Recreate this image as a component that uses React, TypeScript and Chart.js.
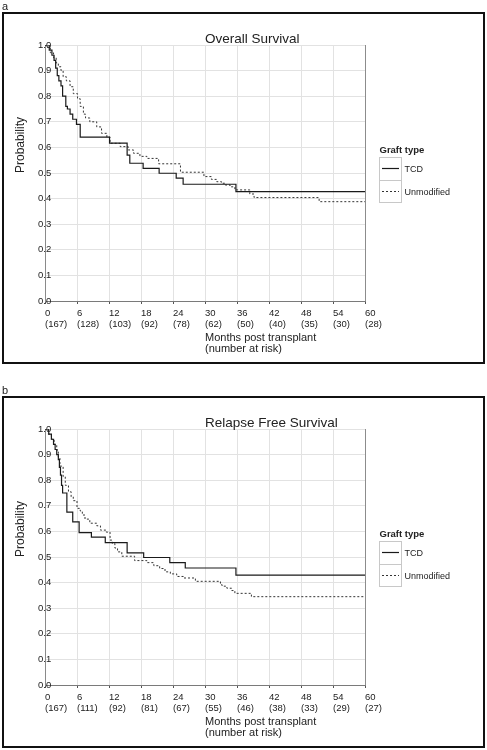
import React, { useEffect, useRef } from "react";
import { Chart, registerables } from "chart.js";

Chart.register(...registerables);

const FONT = '"Liberation Sans", Arial, Helvetica, sans-serif';

// x-axis ticks (months) and numbers at risk
const monthTicks = [0, 6, 12, 18, 24, 30, 36, 42, 48, 54, 60];
const osAtRisk = [167, 128, 103, 92, 78, 62, 50, 40, 35, 30, 28];
const rfsAtRisk = [167, 111, 92, 81, 67, 55, 46, 38, 33, 29, 27];
const seriesNames = ["TCD", "Unmodified"];

// Overall survival – TCD
const osTcdMonths = [0, 0.8, 1.3, 1.7, 2.0, 2.3, 2.6, 3.0, 3.3, 3.9, 4.2, 4.7, 5.2, 5.9, 6.6, 12.1, 15.4, 15.9, 18.4, 21.4, 24.6, 25.9, 35.8, 60];
const osTcdSurv = [1.0, 0.98, 0.96, 0.94, 0.91, 0.88, 0.86, 0.84, 0.8, 0.76, 0.75, 0.73, 0.71, 0.69, 0.64, 0.617, 0.57, 0.538, 0.518, 0.499, 0.48, 0.456, 0.427, 0.427];

// Overall survival – Unmodified
const osUnmMonths = [0, 0.5, 1.0, 1.6, 2.1, 2.5, 3.0, 3.4, 4.0, 4.7, 5.3, 6.1, 6.6, 7.2, 7.6, 8.4, 9.7, 10.6, 11.6, 12.2, 14.1, 15.6, 16.6, 17.8, 19.1, 21.3, 25.4, 29.8, 31.2, 32.2, 33.1, 33.8, 34.7, 35.6, 38.4, 39.2, 51.4, 60];
const osUnmSurv = [1.0, 0.99, 0.97, 0.95, 0.93, 0.915, 0.9, 0.876, 0.86, 0.837, 0.81, 0.79, 0.76, 0.73, 0.715, 0.7, 0.68, 0.655, 0.64, 0.616, 0.603, 0.59, 0.577, 0.565, 0.557, 0.536, 0.503, 0.486, 0.475, 0.466, 0.46, 0.453, 0.446, 0.434, 0.418, 0.404, 0.388, 0.388];

// Relapse free survival – TCD
const rfsTcdMonths = [0, 0.7, 1.2, 1.6, 1.9, 2.2, 2.5, 2.7, 2.9, 3.1, 3.3, 4.1, 5.2, 6.4, 8.7, 11.3, 15.4, 18.5, 23.4, 26.3, 35.8, 60];
const rfsTcdSurv = [1.0, 0.98, 0.96, 0.94, 0.92, 0.9, 0.88, 0.85, 0.82, 0.78, 0.75, 0.675, 0.637, 0.595, 0.578, 0.556, 0.516, 0.498, 0.478, 0.457, 0.429, 0.429];

// Relapse free survival – Unmodified
const rfsUnmMonths = [0, 0.6, 1.2, 1.7, 2.2, 2.5, 2.8, 3.4, 3.8, 4.4, 4.9, 5.3, 6.0, 6.6, 7.0, 7.5, 8.4, 9.7, 10.4, 11.5, 12.2, 12.6, 13.1, 13.6, 14.4, 16.8, 19.1, 20.4, 21.5, 22.5, 23.5, 24.7, 26.0, 28.2, 32.9, 33.2, 34.1, 35.0, 35.6, 38.7, 60];
const rfsUnmSurv = [1.0, 0.98, 0.96, 0.94, 0.918, 0.89, 0.855, 0.814, 0.78, 0.755, 0.735, 0.72, 0.69, 0.68, 0.664, 0.648, 0.632, 0.622, 0.605, 0.597, 0.566, 0.553, 0.535, 0.52, 0.503, 0.486, 0.478, 0.466, 0.455, 0.442, 0.434, 0.424, 0.418, 0.405, 0.392, 0.386, 0.378, 0.369, 0.358, 0.345, 0.345];

type PanelProps = {
  letter: string;
  title: string;
  atRisk: number[];
  tcdMonths: number[];
  tcdSurv: number[];
  unmMonths: number[];
  unmSurv: number[];
  top: number;
};

const W = 487;
const H = 366;

function toPoints(xs: number[], ys: number[]) {
  return xs.map((x, i) => ({ x, y: ys[i] }));
}

function Panel(props: PanelProps) {
  const ref = useRef<HTMLCanvasElement | null>(null);
  useEffect(() => {
    const canvas = ref.current;
    if (!canvas) return;
    const decor = {
      id: "decor",
      afterDraw(chart: any) {
        const ctx = chart.ctx as CanvasRenderingContext2D;
        const a = chart.chartArea;
        const mid = (a.left + a.right) / 2;
        ctx.save();
        // right frame of plot
        ctx.strokeStyle = "#8c8c8c";
        ctx.lineWidth = 1;
        ctx.beginPath();
        ctx.moveTo(Math.round(a.right) + 0.5, a.top);
        ctx.lineTo(Math.round(a.right) + 0.5, a.bottom);
        ctx.stroke();
        // panel border
        ctx.strokeStyle = "#111";
        ctx.lineWidth = 2;
        ctx.strokeRect(3, 13, 481, 350);
        ctx.fillStyle = "#222";
        // panel letter
        ctx.font = `11px ${FONT}`;
        ctx.textAlign = "left";
        ctx.textBaseline = "alphabetic";
        ctx.fillText(props.letter, 2, 10);
        // title
        ctx.font = `13.5px ${FONT}`;
        ctx.fillText(props.title, mid, 43);
        // x title
        ctx.font = `11px ${FONT}`;
        ctx.fillText("Months post transplant", mid, 341);
        ctx.fillText("(number at risk)", mid, 352);
        // y title
        ctx.save();
        ctx.translate(24, (a.top + a.bottom) / 2);
        ctx.rotate(-Math.PI / 2);
        ctx.font = `12px ${FONT}`;
        ctx.fillText("Probability", 0, 0);
        ctx.restore();
        // legend
        ctx.font = `bold 9.5px ${FONT}`;
        ctx.fillText("Graft type", 379.5, 153);
        ctx.strokeStyle = "#c8c8c8";
        ctx.lineWidth = 1;
        ctx.strokeRect(379.5, 157.5, 22, 45);
        ctx.beginPath();
        ctx.moveTo(379.5, 180.5);
        ctx.lineTo(401.5, 180.5);
        ctx.stroke();
        ctx.strokeStyle = "#1a1a1a";
        ctx.lineWidth = 1.2;
        ctx.beginPath();
        ctx.moveTo(382, 168.5);
        ctx.lineTo(399, 168.5);
        ctx.stroke();
        ctx.strokeStyle = "#333";
        ctx.lineWidth = 1;
        ctx.setLineDash([2, 2]);
        ctx.beginPath();
        ctx.moveTo(382, 191.5);
        ctx.lineTo(399, 191.5);
        ctx.stroke();
        ctx.setLineDash([]);
        ctx.font = `9px ${FONT}`;
        ctx.textBaseline = "middle";
        ctx.fillText(seriesNames[0], 404.5, 170);
        ctx.fillText(seriesNames[1], 404.5, 193);
        ctx.restore();
      },
    };
    const chart = new Chart(canvas, {
      type: "line",
      data: {
        datasets: [
          {
            label: seriesNames[0],
            data: toPoints(props.tcdMonths, props.tcdSurv),
            borderColor: "#1a1a1a",
            borderWidth: 1.2,
            pointRadius: 0,
            stepped: "before",
            fill: false,
          },
          {
            label: seriesNames[1],
            data: toPoints(props.unmMonths, props.unmSurv),
            borderColor: "#333",
            borderWidth: 1,
            borderDash: [2, 2],
            pointRadius: 0,
            stepped: "before",
            fill: false,
          },
        ],
      },
      options: {
        animation: false,
        responsive: false,
        maintainAspectRatio: false,
        events: [],
        layout: { padding: { left: 45, right: 122, top: 45, bottom: 35 } },
        plugins: { legend: { display: false }, title: { display: false }, tooltip: { enabled: false } },
        scales: {
          x: {
            type: "linear",
            min: 0,
            max: 60,
            afterFit: (s: any) => {
              s.height = 30;
            },
            grid: { color: "#e2e2e2", lineWidth: 1, drawTicks: true, tickLength: 3, tickColor: "#555" },
            border: { color: "#7a7a7a", width: 1 },
            afterBuildTicks: (s: any) => {
              s.ticks = monthTicks.map((v) => ({ value: v }));
            },
            ticks: {
              align: "start",
              maxRotation: 0,
              minRotation: 0,
              autoSkip: false,
              padding: 4,
              color: "#222",
              font: { family: FONT, size: 9.5, lineHeight: "11px" },
              callback: (value: any, index: number) => [String(monthTicks[index]), `(${props.atRisk[index]})`],
            },
          },
          y: {
            min: 0,
            max: 1,
            afterFit: (s: any) => {
              s.width = 0;
            },
            grid: { color: "#e2e2e2", lineWidth: 1, drawTicks: false },
            border: { color: "#8a8a8a", width: 1 },
            ticks: {
              stepSize: 0.1,
              mirror: true,
              padding: -7,
              color: "#222",
              font: { family: FONT, size: 9.5 },
              callback: (value: any) => Number(value).toFixed(1),
            },
          },
        },
      },
      plugins: [decor],
    } as any);
    return () => chart.destroy();
  }, []);
  return (
    <canvas
      ref={ref}
      width={W}
      height={H}
      style={{ position: "absolute", left: 0, top: props.top, width: W, height: H }}
    />
  );
}

export default function App() {
  return (
    <div style={{ position: "absolute", left: 0, top: 0, width: 487, height: 750, background: "#fff", overflow: "hidden" }}>
      <Panel
        letter="a"
        title="Overall Survival"
        atRisk={osAtRisk}
        tcdMonths={osTcdMonths}
        tcdSurv={osTcdSurv}
        unmMonths={osUnmMonths}
        unmSurv={osUnmSurv}
        top={0}
      />
      <Panel
        letter="b"
        title="Relapse Free Survival"
        atRisk={rfsAtRisk}
        tcdMonths={rfsTcdMonths}
        tcdSurv={rfsTcdSurv}
        unmMonths={rfsUnmMonths}
        unmSurv={rfsUnmSurv}
        top={384}
      />
    </div>
  );
}
